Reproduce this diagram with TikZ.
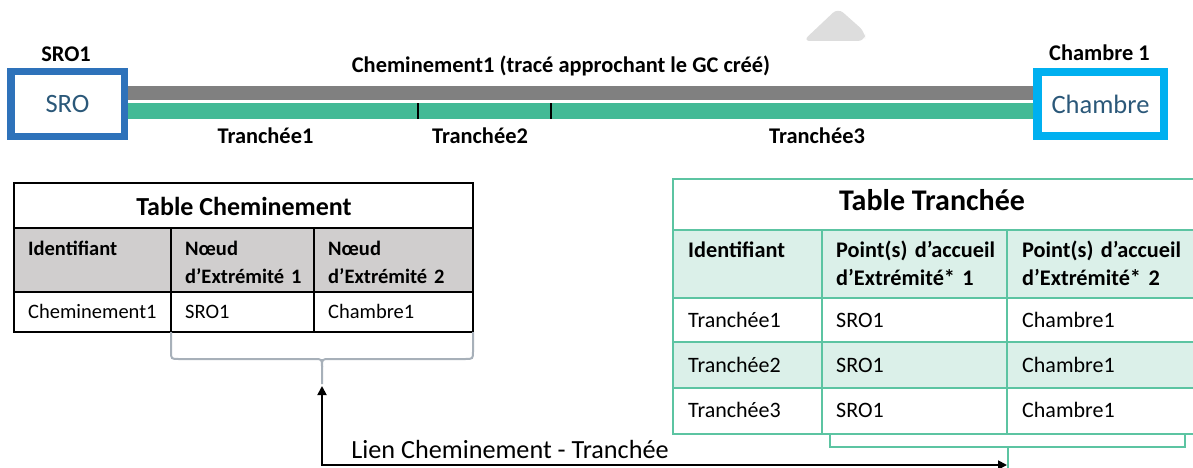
\documentclass[tikz,border=0pt]{standalone}
\usepackage{fontspec}
\setmainfont{Carlito}
\usetikzlibrary{arrows.meta}
\definecolor{sroblue}{HTML}{2E72BA}
\definecolor{boxtext}{HTML}{2B5879}
\definecolor{chcyan}{HTML}{00B0F0}
\definecolor{bargray}{HTML}{808080}
\definecolor{bargreen}{HTML}{43BA96}
\definecolor{tgreen}{HTML}{5CC4A2}
\definecolor{tfill}{HTML}{DBF0E9}
\definecolor{hgray}{HTML}{D0CECE}
\definecolor{bracegray}{HTML}{A7B0B9}
\definecolor{trigray}{HTML}{DDDDDD}
\begin{document}
\begin{tikzpicture}[x=1pt,y=-1pt,
  lbl/.style={font=\fontsize{22.4}{26}\selectfont\bfseries, inner sep=0pt, anchor=base},
  boxtxt/.style={font=\fontsize{26.5}{30}\selectfont, text=boxtext},
  ccell/.style={draw=black, line width=1.6pt, anchor=north west, inner sep=0pt, outer sep=0pt},
  tcell/.style={draw=tgreen, line width=1.6pt, anchor=north west, inner sep=0pt, outer sep=0pt},
  chead/.style={font=\fontsize{20.5}{28}\selectfont\bfseries, anchor=base west, inner sep=0pt, text width=140pt, align=left},
  cbody/.style={font=\fontsize{20.5}{25}\selectfont, anchor=base west, inner sep=0pt},
  thead/.style={font=\fontsize{22.3}{28}\selectfont\bfseries, anchor=base west, inner sep=0pt, text width=180pt, align=left},
  tbody/.style={font=\fontsize{22}{25}\selectfont, anchor=base west, inner sep=0pt},
  bracestyle/.style={draw=bracegray, line width=2pt},
  gbrack/.style={draw=tgreen, line width=2pt},
  tick/.style={draw=black, line width=2pt},
]
\useasboundingbox (0,0) rectangle (1193,468);
\clip (0,0) rectangle (1193,468);

% faint shape at top
\fill[trigray, rounded corners=7pt] (803,41) -- (838,8) -- (865,32) -- (865,41) -- cycle;

% end boxes
\node[draw=sroblue, line width=7.5pt, minimum width=113.5pt, minimum height=64.5pt, inner sep=0pt, boxtxt] (sro) at (67.5,104) {SRO};
\node[draw=chcyan, line width=8.5pt, minimum width=126.5pt, minimum height=63.5pt, inner sep=0pt, boxtxt] (ch) at (1100.5,104) {Chambre};

% bars
\draw[bargray, line width=14pt] ([yshift=11pt]sro.east) -- ([yshift=11pt]ch.west);
\draw[bargreen, line width=15.5pt] ([yshift=-7.25pt]sro.east) -- ([yshift=-7.25pt]ch.west);
\draw[tick] (418,103.5) -- (418,119);
\draw[tick] (551,103.5) -- (551,119);

% labels
\node[lbl] (l1) at (66,62) {SRO1};
\node[lbl] (l2) at (1099.5,61) {Chambre 1};
\node[lbl] (l3) at (561,73) {Cheminement1 (tracé approchant le GC créé)};
\node[lbl] (l4) at (265.5,143) {Tranchée1};
\node[lbl] (l5) at (480,143) {Tranchée2};
\node[lbl] (l6) at (817,143) {Tranchée3};

% Table Cheminement
\node[ccell, minimum width=459pt, minimum height=45pt] (ct) at (14,183) {};
\node[ccell, fill=hgray, minimum width=157pt, minimum height=64pt] (ch1) at (14,228) {};
\node[ccell, fill=hgray, minimum width=143pt, minimum height=64pt] (ch2) at (171,228) {};
\node[ccell, fill=hgray, minimum width=159pt, minimum height=64pt] (ch3) at (314,228) {};
\node[ccell, minimum width=157pt, minimum height=40pt] (cd1) at (14,292) {};
\node[ccell, minimum width=143pt, minimum height=40pt] (cd2) at (171,292) {};
\node[ccell, minimum width=159pt, minimum height=40pt] (cd3) at (314,292) {};
\node[font=\fontsize{26}{30}\selectfont\bfseries, inner sep=0pt, anchor=base] (ctt) at (244,215) {Table Cheminement};
\node[chead] (cht1) at (28,255) {Identifiant};
\node[chead] (cht2) at (185,255) {Nœud\\d’Extrémité 1};
\node[chead] (cht3) at (328,255) {Nœud\\d’Extrémité 2};
\node[cbody] (cdt1) at (28,318) {Cheminement1};
\node[cbody] (cdt2) at (185,318) {SRO1};
\node[cbody] (cdt3) at (328,318) {Chambre1};

% Table Tranchee
\node[tcell, minimum width=530pt, minimum height=51pt] (tt) at (673,179) {};
\node[tcell, fill=tfill, minimum width=149pt, minimum height=68pt] (th1) at (673,230) {};
\node[tcell, fill=tfill, minimum width=185pt, minimum height=68pt] (th2) at (822,230) {};
\node[tcell, fill=tfill, minimum width=196pt, minimum height=68pt] (th3) at (1007,230) {};
\node[tcell, minimum width=149pt, minimum height=44pt] (ta1) at (673,298) {};
\node[tcell, minimum width=185pt, minimum height=44pt] (ta2) at (822,298) {};
\node[tcell, minimum width=196pt, minimum height=44pt] (ta3) at (1007,298) {};
\node[tcell, fill=tfill, minimum width=149pt, minimum height=46pt] (tb1) at (673,342) {};
\node[tcell, fill=tfill, minimum width=185pt, minimum height=46pt] (tb2) at (822,342) {};
\node[tcell, fill=tfill, minimum width=196pt, minimum height=46pt] (tb3) at (1007,342) {};
\node[tcell, minimum width=149pt, minimum height=46pt] (tc1) at (673,388) {};
\node[tcell, minimum width=185pt, minimum height=46pt] (tc2) at (822,388) {};
\node[tcell, minimum width=196pt, minimum height=46pt] (tc3) at (1007,388) {};
\node[font=\fontsize{30}{34}\selectfont\bfseries, inner sep=0pt, anchor=base] (ttt) at (932,210) {Table Tranchée};
\node[thead] (tht1) at (688,257) {Identifiant};
\node[thead] (tht2) at (836,257) {Point(s) d’accueil\\d’Extrémité* 1};
\node[thead] (tht3) at (1022,257) {Point(s) d’accueil\\d’Extrémité* 2};
\node[tbody] (tat1) at (688,327) {Tranchée1};
\node[tbody] (tat2) at (836,327) {SRO1};
\node[tbody] (tat3) at (1022,327) {Chambre1};
\node[tbody] (tbt1) at (688,372) {Tranchée2};
\node[tbody] (tbt2) at (836,372) {SRO1};
\node[tbody] (tbt3) at (1022,372) {Chambre1};
\node[tbody] (tct1) at (688,417) {Tranchée3};
\node[tbody] (tct2) at (836,417) {SRO1};
\node[tbody] (tct3) at (1022,417) {Chambre1};

% brace under Table Cheminement
\coordinate (btip) at (322,384);
\draw[bracestyle] (cd2.south west) -- (171,351) .. controls (171,359) .. (179,359) -- (314,359) .. controls (322,359) .. (322,367) -- (btip);
\draw[bracestyle] (cd3.south east) -- (473,351) .. controls (473,359) .. (465,359) -- (330,359) .. controls (322,359) .. (322,367);

% bracket under Table Tranchee
\coordinate (gtip) at (1008,447);
\coordinate (gbot) at (1008,470);
\draw[gbrack] (830,434) -- (830,447) -- (1185,447) -- (1185,434);
\draw[gbrack] (gtip) -- (gbot);

% link arrow
\coordinate (aup) at (322,386);
\coordinate (aright) at (1007,465);
\draw[line width=1.8pt, {Triangle[length=9pt,width=9pt]}-{Triangle[length=9pt,width=9pt]}] (aup) |- (aright);
\node[font=\fontsize{26.2}{30}\selectfont, inner sep=0pt, anchor=base] (lien) at (510,458) {Lien Cheminement - Tranchée};
\end{tikzpicture}
\end{document}
